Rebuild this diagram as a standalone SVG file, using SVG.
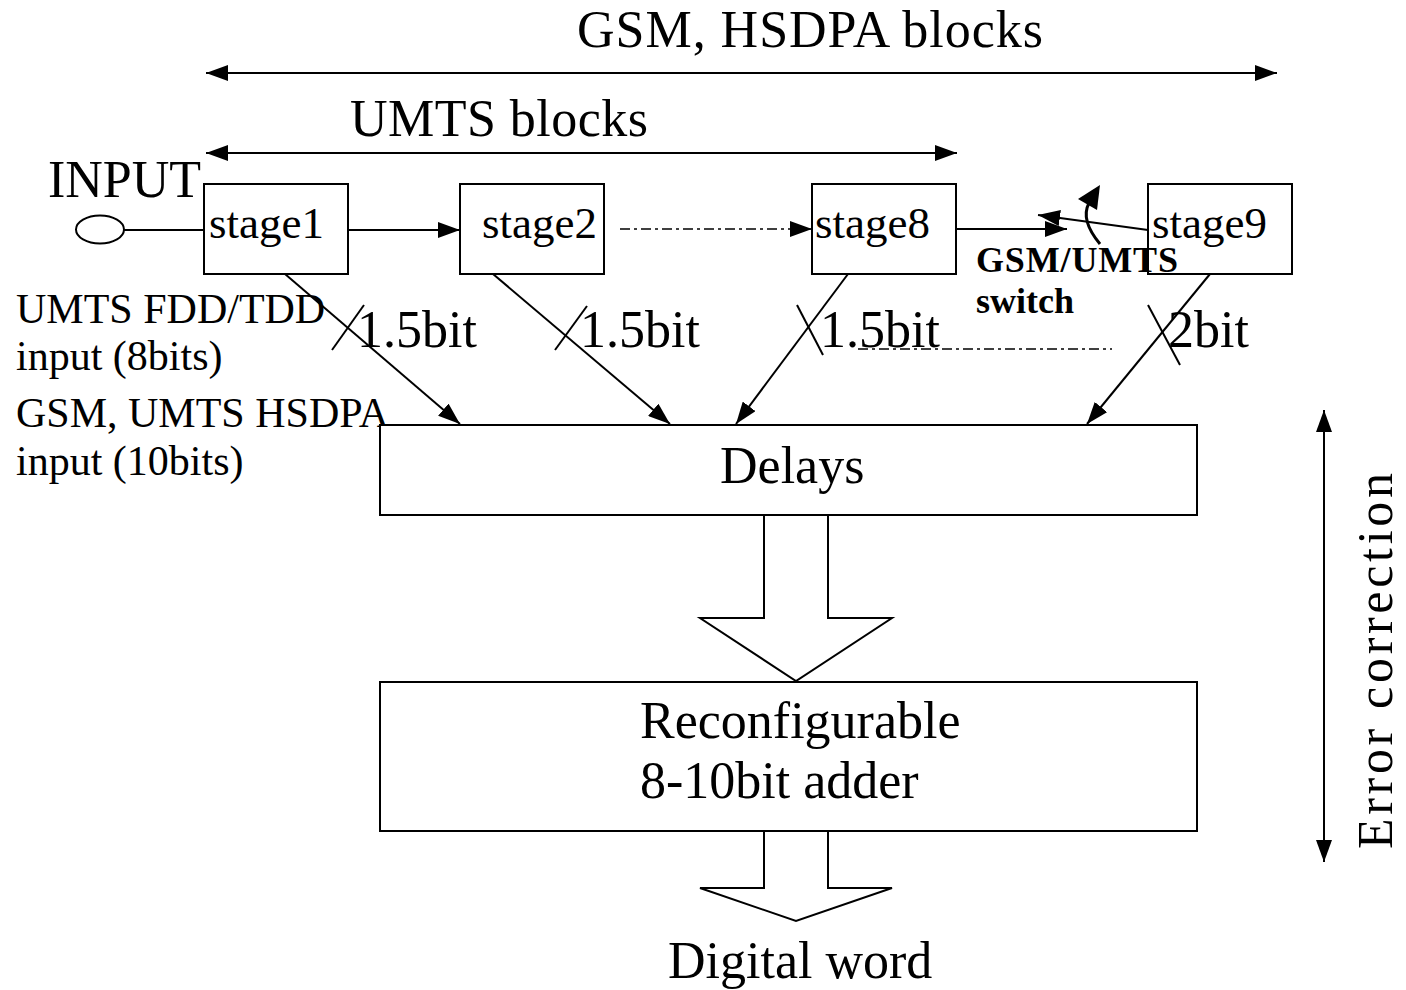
<svg xmlns="http://www.w3.org/2000/svg" width="1406" height="990" viewBox="0 0 1406 990">
<style>
text{font-family:"Liberation Serif","Times New Roman",serif;fill:#000}
.big{font-size:52px}
.stg{font-size:45px}
.side{font-size:42px}
.bold{font-size:36px;font-weight:bold}
.box{fill:#fff;stroke:#000;stroke-width:2}
.ln{fill:none;stroke:#000;stroke-width:2}
.dd{fill:none;stroke:#000;stroke-width:1.5;stroke-dasharray:10 4 3 4}
</style>
<defs>
<marker id="ah" viewBox="0 0 22 16" refX="22" refY="8" markerWidth="22" markerHeight="16" markerUnits="userSpaceOnUse" orient="auto-start-reverse">
<path d="M0,0 L22,8 L0,16 Z" fill="#000"/>
</marker>
</defs>

<g id="title-gsm">
<text class="big" x="577" y="47" textLength="466" lengthAdjust="spacing">GSM, HSDPA blocks</text>
</g>
<g id="title-umts">
<text class="big" x="350" y="136" textLength="298" lengthAdjust="spacing">UMTS blocks</text>
</g>
<g id="input">
<text class="big" x="48" y="197" textLength="153" lengthAdjust="spacing">INPUT</text>
<ellipse cx="100" cy="229.5" rx="24" ry="14" class="ln"/>
</g>
<g id="stage1">
<rect class="box" x="204" y="184" width="144" height="90"/>
<text class="stg" x="209" y="238">stage1</text>
</g>
<g id="stage2">
<rect class="box" x="460" y="184" width="144" height="90"/>
<text class="stg" x="482" y="238">stage2</text>
</g>
<g id="stage8">
<rect class="box" x="812" y="184" width="144" height="90"/>
<text class="stg" x="815" y="238">stage8</text>
</g>
<g id="stage9">
<rect class="box" x="1148" y="184" width="144" height="90"/>
<text class="stg" x="1152" y="238">stage9</text>
</g>
<g id="switch-label">
<text class="bold" x="976" y="272" textLength="202" lengthAdjust="spacing">GSM/UMTS</text>
<text class="bold" x="976" y="313">switch</text>
</g>
<g id="side-labels">
<text class="side" x="16" y="323">UMTS FDD/TDD</text>
<text class="side" x="16" y="370">input (8bits)</text>
<text class="side" x="16" y="427">GSM, UMTS HSDPA</text>
<text class="side" x="16" y="475">input (10bits)</text>
</g>
<g id="bit-labels">
<text class="big" x="357" y="347">1.5bit</text>
<text class="big" x="580" y="347">1.5bit</text>
<text class="big" x="820" y="347">1.5bit</text>
<text class="big" x="1168" y="347">2bit</text>
</g>
<g id="delays">
<rect class="box" x="380" y="425" width="817" height="90"/>
<text class="big" x="720" y="483">Delays</text>
</g>
<g id="adder">
<rect class="box" x="380" y="682" width="817" height="149"/>
<text class="big" x="640" y="738">Reconfigurable</text>
<text class="big" x="640" y="798">8-10bit adder</text>
</g>
<g id="output">
<text class="big" x="668" y="978">Digital word</text>
</g>
<g id="error-correction">
<text style="font-size:50px" transform="translate(1392,661) rotate(-90)" text-anchor="middle" textLength="376" lengthAdjust="spacing">Error correction</text>
</g>

<g id="connectors">
<line class="ln" x1="206" y1="73" x2="1277" y2="73" marker-start="url(#ah)" marker-end="url(#ah)"/>
<line class="ln" x1="206" y1="153" x2="957" y2="153" marker-start="url(#ah)" marker-end="url(#ah)"/>
<line class="ln" x1="1324" y1="410" x2="1324" y2="862" marker-start="url(#ah)" marker-end="url(#ah)"/>
<line class="ln" x1="124" y1="230" x2="204" y2="230"/>
<line class="ln" x1="348" y1="230" x2="460" y2="230" marker-end="url(#ah)"/>
<line class="dd" x1="620" y1="229" x2="812" y2="229" marker-end="url(#ah)"/>
<line class="ln" x1="956" y1="229" x2="1067" y2="229" marker-end="url(#ah)"/>
<line class="ln" x1="1148" y1="230" x2="1038" y2="215" marker-end="url(#ah)"/>
<path d="M1100,244 Q1080,220 1089,203" fill="none" stroke="#000" stroke-width="3"/>
<polygon points="1100,185 1078,199 1097,210" fill="#000"/>
<line class="ln" x1="285" y1="274" x2="460" y2="424" marker-end="url(#ah)"/>
<line class="ln" x1="493" y1="274" x2="670" y2="424" marker-end="url(#ah)"/>
<line class="ln" x1="848" y1="274" x2="736" y2="424" marker-end="url(#ah)"/>
<line class="ln" x1="1210" y1="274" x2="1087" y2="424" marker-end="url(#ah)"/>
<line class="ln" x1="332" y1="350" x2="364" y2="305"/>
<line class="ln" x1="555" y1="350" x2="587" y2="306"/>
<line class="ln" x1="797" y1="305" x2="823" y2="355"/>
<line class="ln" x1="1148" y1="305" x2="1180" y2="365"/>
<line class="dd" x1="858" y1="349" x2="1112" y2="349"/>
<polygon class="box" points="764,515 764,618 700,618 796,681 892,618 828,618 828,515"/>
<polygon class="box" points="764,831 764,888 700,888 796,921 892,888 828,888 828,831"/>
</g>
</svg>
